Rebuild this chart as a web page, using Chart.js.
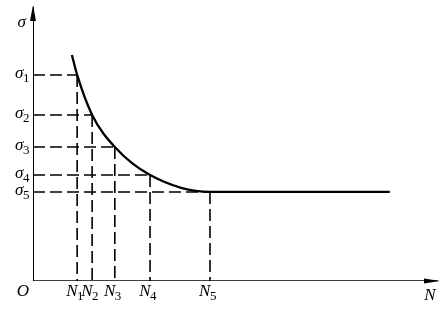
<!DOCTYPE html>
<html>
<head>
<meta charset="utf-8">
<script src="https://cdn.jsdelivr.net/npm/chart.js@4"></script>
<style>
html,body{margin:0;padding:0;background:#fff;}
#wrap{width:447px;height:310px;}
</style>
</head>
<body>
<div id="wrap"><canvas id="c" width="447" height="310"></canvas></div>
<script>
// Fatigue (S-N) curve: cycle counts N_i and stress levels sigma_i (arbitrary units)
const nValues = [10.9, 14.6, 20.2, 28.9, 43.7];
const sigmaValues = [75.2, 60.6, 48.9, 38.7, 32.5];
const nSubs = ['1', '2', '3', '4', '5'];
const sigmaSubs = ['1', '2', '3', '4', '5'];
const curveStartX = 9.6, curveStartY = 82.5;
const curveEndX = 88.1;
const axisMaxX = 100, axisMaxY = 100;

const curveData = [{x: curveStartX, y: curveStartY}];
nValues.forEach((n, i) => curveData.push({x: n, y: sigmaValues[i]}));
curveData.push({x: curveEndX, y: sigmaValues[sigmaValues.length - 1]});

const datasets = [];
// axes
datasets.push({data: [{x: 0, y: 0}, {x: axisMaxX, y: 0}], borderColor: '#000', borderWidth: 1.6, pointRadius: 0});
datasets.push({data: [{x: 0, y: 0}, {x: 0, y: axisMaxY}], borderColor: '#000', borderWidth: 2, pointRadius: 0});
// dashed guides
nValues.forEach((n, i) => {
  datasets.push({data: [{x: 0, y: sigmaValues[i]}, {x: n, y: sigmaValues[i]}], borderColor: '#000', borderWidth: 1.6, borderDash: [12, 5], pointRadius: 0});
  datasets.push({data: [{x: n, y: sigmaValues[i]}, {x: n, y: 0}], borderColor: '#000', borderWidth: 1.6, borderDash: [12, 5], pointRadius: 0});
});
// curve
datasets.push({data: curveData, borderColor: '#000', borderWidth: 2.3, pointRadius: 0, cubicInterpolationMode: 'monotone'});

const labelPlugin = {
  id: 'labels',
  afterDraw(chart) {
    const ctx = chart.ctx;
    const xs = chart.scales.x, ys = chart.scales.y;
    const x0 = xs.getPixelForValue(0), y0 = ys.getPixelForValue(0);
    const xm = xs.getPixelForValue(axisMaxX), ym = ys.getPixelForValue(axisMaxY);
    ctx.save();
    ctx.fillStyle = '#000';
    // arrowheads
    ctx.beginPath();
    ctx.moveTo(x0, ym - 2); ctx.lineTo(x0 - 3, ym + 14); ctx.lineTo(x0 + 3, ym + 14); ctx.closePath(); ctx.fill();
    ctx.beginPath();
    ctx.moveTo(xm + 2, y0); ctx.lineTo(xm - 14, y0 - 2.5); ctx.lineTo(xm - 14, y0 + 2.5); ctx.closePath(); ctx.fill();

    const mainFont = 'italic 17px "Liberation Serif"';
    const subFont = '13px "Liberation Serif"';
    function label(main, sub, x, y, align) {
      ctx.font = mainFont;
      const w1 = ctx.measureText(main).width;
      ctx.font = subFont;
      const w2 = sub ? ctx.measureText(sub).width : 0;
      const total = w1 + w2;
      let sx = x;
      if (align === 'right') sx = x - total;
      else if (align === 'center') sx = x - total / 2;
      ctx.textAlign = 'left';
      ctx.textBaseline = 'alphabetic';
      ctx.font = mainFont;
      ctx.fillText(main, sx, y);
      if (sub) { ctx.font = subFont; ctx.fillText(sub, sx + w1 - 0.5, y + 4); }
    }
    // sigma labels
    sigmaValues.forEach((s, i) => {
      label('σ', sigmaSubs[i], x0 - 3, ys.getPixelForValue(s) + 3, 'right');
    });
    label('σ', '', x0 - 7, ym + 20, 'right');
    // N labels
    nValues.forEach((n, i) => {
      label('N', nSubs[i], xs.getPixelForValue(n) - 2, y0 + 15, 'center');
    });
    label('O', '', x0 - 4, y0 + 15, 'right');
    label('N', '', xm - 8, y0 + 19, 'center');
    ctx.restore();
  }
};

new Chart(document.getElementById('c'), {
  type: 'line',
  data: {datasets},
  options: {
    responsive: false,
    animation: false,
    parsing: false,
    layout: {padding: {left: 33, right: 9, top: 7, bottom: 29}},
    plugins: {legend: {display: false}, tooltip: {enabled: false}},
    scales: {
      x: {type: 'linear', min: 0, max: axisMaxX, display: false},
      y: {type: 'linear', min: 0, max: axisMaxY, display: false}
    }
  },
  plugins: [labelPlugin]
});
</script>
</body>
</html>
